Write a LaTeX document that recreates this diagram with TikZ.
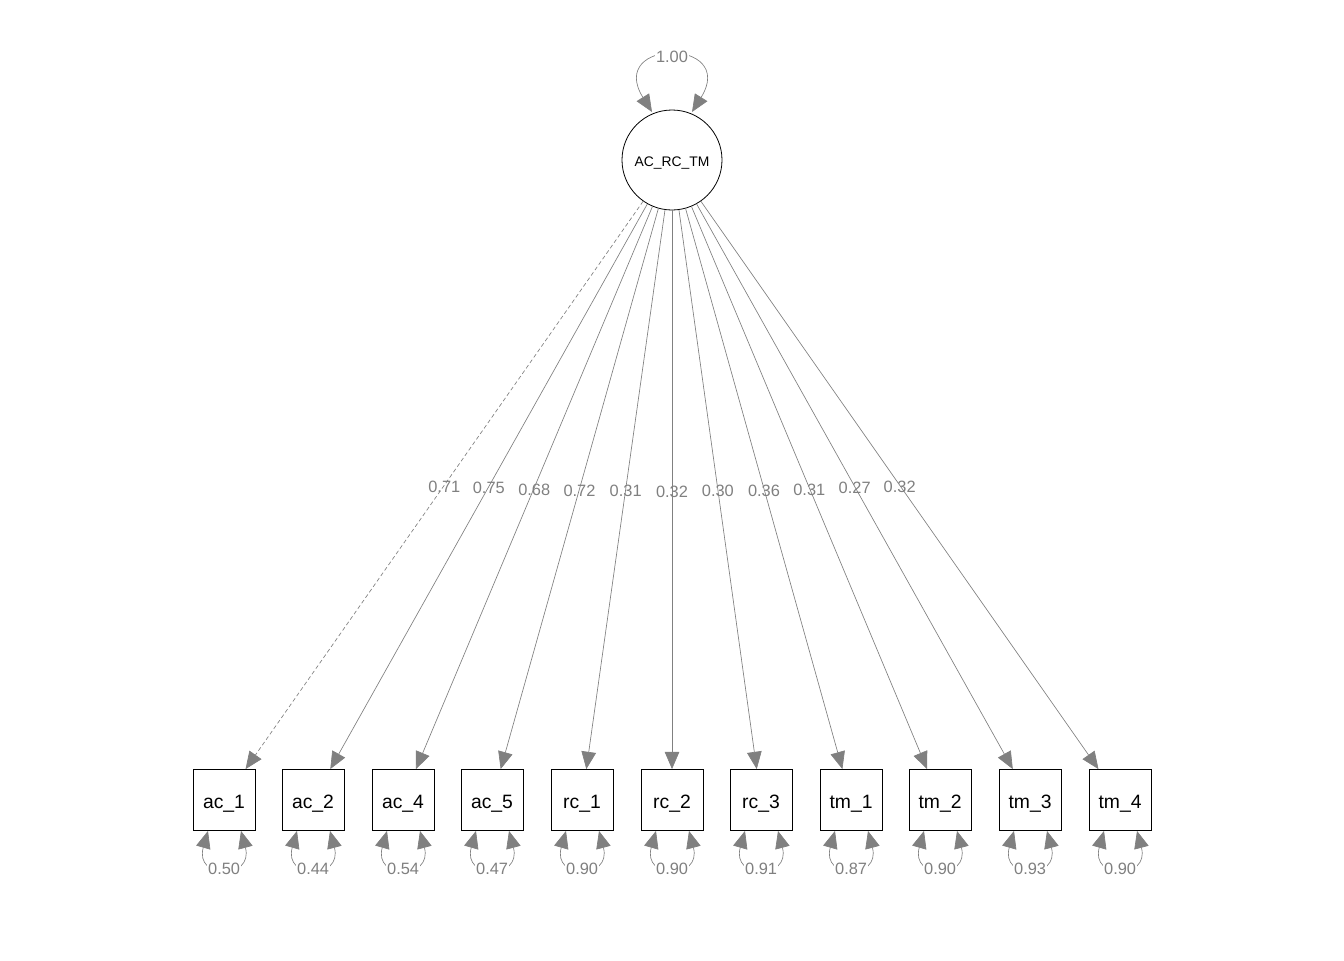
\documentclass[tikz,border=0pt]{standalone}
\usepackage{fontspec}
\setmainfont{Liberation Sans}
\usetikzlibrary{arrows.meta}
\begin{document}
\begin{tikzpicture}[x=0.75pt,y=-0.75pt,
  obs/.style={draw=black,line width=0.6pt,minimum width=46.5pt,minimum height=45.75pt,inner sep=0pt,text height=12pt,text depth=0pt,font=\fontsize{14.5}{16}\selectfont},
  lat/.style={circle,draw=black,line width=0.6pt,minimum size=75pt,inner sep=0pt,text height=9.8pt,text depth=0pt,font=\fontsize{10.4}{12}\selectfont},
  tipx/.tip={Triangle[length=13pt,width=11pt]},
  ld/.style={draw=gray,line width=0.5pt,-tipx},
  res/.style={draw=gray,line width=0.5pt,tipx-tipx},
  lab/.style={text=gray,font=\fontsize{12.3}{14}\selectfont,inner sep=1pt,yshift=-1.2pt},
  rlab/.style={lab,fill=white}]
\useasboundingbox (0,0) rectangle (1344,960);
\node[lat] (L) at (672,160) {AC\_RC\_TM};
\foreach \i/\x/\t in {1/224/ac\_1,2/313/ac\_2,3/403/ac\_4,4/492/ac\_5,5/582/rc\_1,6/672/rc\_2,7/761/rc\_3,8/851/tm\_1,9/940/tm\_2,10/1030/tm\_3,11/1120/tm\_4}{
  \node[obs] (b\i) at (\x,800) {\t};
}
\draw[ld,dash pattern=on 3pt off 2pt] (L) -- (b1) node[lab,pos=0.5]{0.71};
\foreach \i/\v in {2/0.75,3/0.68,4/0.72,5/0.31,6/0.32,7/0.30,8/0.36,9/0.31,10/0.27,11/0.32}{
  \draw[ld] (L) -- (b\i) node[lab,pos=0.5]{\v};
}
\foreach \i/\v in {1/0.50,2/0.44,3/0.54,4/0.47,5/0.90,6/0.90,7/0.91,8/0.87,9/0.90,10/0.93,11/0.90}{
  \draw[res] ([xshift=-12pt]b\i.south) .. controls +(-10.5pt,-36.75pt) and +(9.75pt,-36.75pt) .. ([xshift=12.75pt]b\i.south) node[rlab,pos=0.5]{\v};
}
\coordinate (tl) at (652,112);
\coordinate (tr) at (692,112);
\draw[res] (tl) .. controls (606,38) and (738,38) .. (tr) node[rlab,pos=0.5,yshift=1.2pt]{1.00};
\end{tikzpicture}
\end{document}
